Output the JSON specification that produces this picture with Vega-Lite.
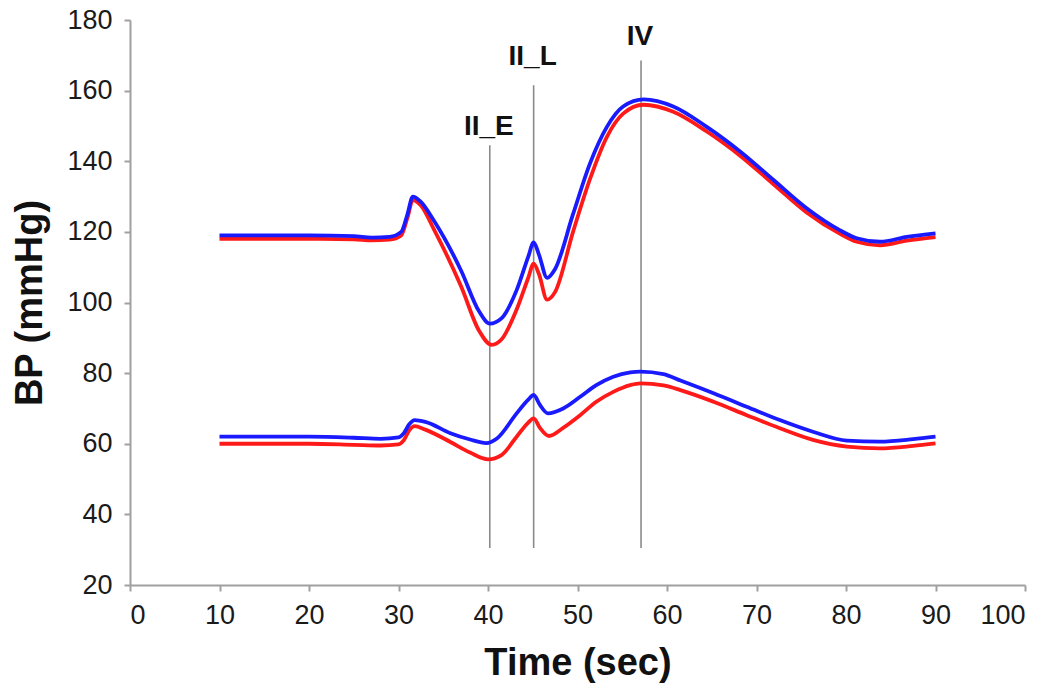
{
  "$schema": "https://vega.github.io/schema/vega-lite/v6.json",
  "autosize": "none",
  "width": 895,
  "height": 565,
  "padding": {"left": 130, "top": 20, "right": 25, "bottom": 108},
  "background": "white",
  "config": {
    "view": {"stroke": null},
    "font": "Liberation Sans",
    "axis": {
      "grid": false,
      "domainColor": "#a0a0a0",
      "domainWidth": 2,
      "tickColor": "#a0a0a0",
      "tickWidth": 2,
      "tickSize": 6,
      "labelFont": "Liberation Sans",
      "labelFontSize": 27,
      "labelColor": "#1a1a1a",
      "titleFont": "Liberation Sans",
      "titleFontWeight": "bold",
      "titleFontSize": 38,
      "titleColor": "#111111"
    }
  },
  "datasets": {
    "curves": [
      {"t": 10, "bp": 118, "grp": "red", "wave": "sys"},
      {"t": 20, "bp": 118, "grp": "red", "wave": "sys"},
      {"t": 25, "bp": 117.9, "grp": "red", "wave": "sys"},
      {"t": 27, "bp": 117.6, "grp": "red", "wave": "sys"},
      {"t": 29, "bp": 117.8, "grp": "red", "wave": "sys"},
      {"t": 30.3, "bp": 119, "grp": "red", "wave": "sys"},
      {"t": 31, "bp": 124, "grp": "red", "wave": "sys"},
      {"t": 31.6, "bp": 129, "grp": "red", "wave": "sys"},
      {"t": 32.5, "bp": 127.5, "grp": "red", "wave": "sys"},
      {"t": 34, "bp": 120.5, "grp": "red", "wave": "sys"},
      {"t": 37, "bp": 104.5, "grp": "red", "wave": "sys"},
      {"t": 39, "bp": 92, "grp": "red", "wave": "sys"},
      {"t": 40.4, "bp": 88, "grp": "red", "wave": "sys"},
      {"t": 41.5, "bp": 89.5, "grp": "red", "wave": "sys"},
      {"t": 43.2, "bp": 98, "grp": "red", "wave": "sys"},
      {"t": 44.5, "bp": 107, "grp": "red", "wave": "sys"},
      {"t": 45.1, "bp": 111, "grp": "red", "wave": "sys"},
      {"t": 45.7, "bp": 108, "grp": "red", "wave": "sys"},
      {"t": 46.6, "bp": 100.8, "grp": "red", "wave": "sys"},
      {"t": 47.5, "bp": 103, "grp": "red", "wave": "sys"},
      {"t": 49.5, "bp": 120, "grp": "red", "wave": "sys"},
      {"t": 51.4, "bp": 135, "grp": "red", "wave": "sys"},
      {"t": 53.3, "bp": 147, "grp": "red", "wave": "sys"},
      {"t": 55.1, "bp": 153.5, "grp": "red", "wave": "sys"},
      {"t": 57.4, "bp": 156, "grp": "red", "wave": "sys"},
      {"t": 60.7, "bp": 154, "grp": "red", "wave": "sys"},
      {"t": 64.4, "bp": 148.5, "grp": "red", "wave": "sys"},
      {"t": 68.2, "bp": 141.5, "grp": "red", "wave": "sys"},
      {"t": 71.9, "bp": 133.5, "grp": "red", "wave": "sys"},
      {"t": 75.6, "bp": 125.5, "grp": "red", "wave": "sys"},
      {"t": 79.3, "bp": 119.5, "grp": "red", "wave": "sys"},
      {"t": 81.2, "bp": 117.2, "grp": "red", "wave": "sys"},
      {"t": 83.8, "bp": 116.2, "grp": "red", "wave": "sys"},
      {"t": 86.8, "bp": 117.5, "grp": "red", "wave": "sys"},
      {"t": 90, "bp": 118.5, "grp": "red", "wave": "sys"},

      {"t": 10, "bp": 119, "grp": "blue", "wave": "sys"},
      {"t": 20, "bp": 119, "grp": "blue", "wave": "sys"},
      {"t": 25, "bp": 118.8, "grp": "blue", "wave": "sys"},
      {"t": 27, "bp": 118.4, "grp": "blue", "wave": "sys"},
      {"t": 29, "bp": 118.6, "grp": "blue", "wave": "sys"},
      {"t": 30.3, "bp": 120, "grp": "blue", "wave": "sys"},
      {"t": 31, "bp": 125, "grp": "blue", "wave": "sys"},
      {"t": 31.6, "bp": 130, "grp": "blue", "wave": "sys"},
      {"t": 32.5, "bp": 128.5, "grp": "blue", "wave": "sys"},
      {"t": 34, "bp": 123, "grp": "blue", "wave": "sys"},
      {"t": 37, "bp": 109, "grp": "blue", "wave": "sys"},
      {"t": 39, "bp": 97.5, "grp": "blue", "wave": "sys"},
      {"t": 40.2, "bp": 94, "grp": "blue", "wave": "sys"},
      {"t": 41.5, "bp": 95.5, "grp": "blue", "wave": "sys"},
      {"t": 43.2, "bp": 103.5, "grp": "blue", "wave": "sys"},
      {"t": 44.5, "bp": 113, "grp": "blue", "wave": "sys"},
      {"t": 45.1, "bp": 117, "grp": "blue", "wave": "sys"},
      {"t": 45.7, "bp": 113.5, "grp": "blue", "wave": "sys"},
      {"t": 46.6, "bp": 107, "grp": "blue", "wave": "sys"},
      {"t": 47.5, "bp": 109.5, "grp": "blue", "wave": "sys"},
      {"t": 49.5, "bp": 125, "grp": "blue", "wave": "sys"},
      {"t": 51.4, "bp": 139.4, "grp": "blue", "wave": "sys"},
      {"t": 53.3, "bp": 149.8, "grp": "blue", "wave": "sys"},
      {"t": 55.1, "bp": 155.5, "grp": "blue", "wave": "sys"},
      {"t": 57.4, "bp": 157.5, "grp": "blue", "wave": "sys"},
      {"t": 60.7, "bp": 155.5, "grp": "blue", "wave": "sys"},
      {"t": 64.4, "bp": 149.8, "grp": "blue", "wave": "sys"},
      {"t": 68.2, "bp": 142.7, "grp": "blue", "wave": "sys"},
      {"t": 71.9, "bp": 134.7, "grp": "blue", "wave": "sys"},
      {"t": 75.6, "bp": 126.7, "grp": "blue", "wave": "sys"},
      {"t": 79.3, "bp": 120.5, "grp": "blue", "wave": "sys"},
      {"t": 81.2, "bp": 118.2, "grp": "blue", "wave": "sys"},
      {"t": 83.8, "bp": 117.2, "grp": "blue", "wave": "sys"},
      {"t": 86.8, "bp": 118.6, "grp": "blue", "wave": "sys"},
      {"t": 90, "bp": 119.6, "grp": "blue", "wave": "sys"},

      {"t": 10, "bp": 60, "grp": "red", "wave": "dia"},
      {"t": 20, "bp": 60, "grp": "red", "wave": "dia"},
      {"t": 25, "bp": 59.7, "grp": "red", "wave": "dia"},
      {"t": 28, "bp": 59.5, "grp": "red", "wave": "dia"},
      {"t": 30, "bp": 59.8, "grp": "red", "wave": "dia"},
      {"t": 30.6, "bp": 61, "grp": "red", "wave": "dia"},
      {"t": 31.2, "bp": 63.8, "grp": "red", "wave": "dia"},
      {"t": 31.8, "bp": 65, "grp": "red", "wave": "dia"},
      {"t": 33, "bp": 64, "grp": "red", "wave": "dia"},
      {"t": 35.8, "bp": 60.5, "grp": "red", "wave": "dia"},
      {"t": 38, "bp": 57.5, "grp": "red", "wave": "dia"},
      {"t": 40, "bp": 55.6, "grp": "red", "wave": "dia"},
      {"t": 41.5, "bp": 56.8, "grp": "red", "wave": "dia"},
      {"t": 43.2, "bp": 62, "grp": "red", "wave": "dia"},
      {"t": 44.5, "bp": 66, "grp": "red", "wave": "dia"},
      {"t": 45.1, "bp": 67.2, "grp": "red", "wave": "dia"},
      {"t": 45.8, "bp": 64.5, "grp": "red", "wave": "dia"},
      {"t": 46.8, "bp": 62.2, "grp": "red", "wave": "dia"},
      {"t": 48.4, "bp": 64.5, "grp": "red", "wave": "dia"},
      {"t": 50.3, "bp": 68.1, "grp": "red", "wave": "dia"},
      {"t": 52.1, "bp": 71.9, "grp": "red", "wave": "dia"},
      {"t": 54, "bp": 74.7, "grp": "red", "wave": "dia"},
      {"t": 55.9, "bp": 76.6, "grp": "red", "wave": "dia"},
      {"t": 57, "bp": 77.1, "grp": "red", "wave": "dia"},
      {"t": 59.6, "bp": 76.5, "grp": "red", "wave": "dia"},
      {"t": 61.5, "bp": 75.2, "grp": "red", "wave": "dia"},
      {"t": 65.2, "bp": 71.9, "grp": "red", "wave": "dia"},
      {"t": 68.9, "bp": 68.1, "grp": "red", "wave": "dia"},
      {"t": 72.6, "bp": 64.4, "grp": "red", "wave": "dia"},
      {"t": 76.3, "bp": 61.1, "grp": "red", "wave": "dia"},
      {"t": 80.1, "bp": 59.2, "grp": "red", "wave": "dia"},
      {"t": 83.8, "bp": 58.7, "grp": "red", "wave": "dia"},
      {"t": 87.5, "bp": 59.4, "grp": "red", "wave": "dia"},
      {"t": 90, "bp": 60.1, "grp": "red", "wave": "dia"},

      {"t": 10, "bp": 62, "grp": "blue", "wave": "dia"},
      {"t": 20, "bp": 62, "grp": "blue", "wave": "dia"},
      {"t": 25, "bp": 61.7, "grp": "blue", "wave": "dia"},
      {"t": 28, "bp": 61.4, "grp": "blue", "wave": "dia"},
      {"t": 30, "bp": 61.8, "grp": "blue", "wave": "dia"},
      {"t": 30.6, "bp": 63, "grp": "blue", "wave": "dia"},
      {"t": 31.2, "bp": 65.5, "grp": "blue", "wave": "dia"},
      {"t": 31.8, "bp": 66.7, "grp": "blue", "wave": "dia"},
      {"t": 33, "bp": 66.2, "grp": "blue", "wave": "dia"},
      {"t": 35.8, "bp": 63, "grp": "blue", "wave": "dia"},
      {"t": 38, "bp": 61.2, "grp": "blue", "wave": "dia"},
      {"t": 39.8, "bp": 60.2, "grp": "blue", "wave": "dia"},
      {"t": 41, "bp": 61.5, "grp": "blue", "wave": "dia"},
      {"t": 43.2, "bp": 68.6, "grp": "blue", "wave": "dia"},
      {"t": 44.5, "bp": 72.5, "grp": "blue", "wave": "dia"},
      {"t": 45.1, "bp": 73.8, "grp": "blue", "wave": "dia"},
      {"t": 45.8, "bp": 71, "grp": "blue", "wave": "dia"},
      {"t": 46.7, "bp": 68.6, "grp": "blue", "wave": "dia"},
      {"t": 48.4, "bp": 70, "grp": "blue", "wave": "dia"},
      {"t": 50.3, "bp": 73.3, "grp": "blue", "wave": "dia"},
      {"t": 52.1, "bp": 76.6, "grp": "blue", "wave": "dia"},
      {"t": 54, "bp": 79, "grp": "blue", "wave": "dia"},
      {"t": 55.9, "bp": 80.2, "grp": "blue", "wave": "dia"},
      {"t": 57, "bp": 80.4, "grp": "blue", "wave": "dia"},
      {"t": 59.6, "bp": 79.7, "grp": "blue", "wave": "dia"},
      {"t": 61.5, "bp": 77.9, "grp": "blue", "wave": "dia"},
      {"t": 65.2, "bp": 74.3, "grp": "blue", "wave": "dia"},
      {"t": 68.9, "bp": 70.5, "grp": "blue", "wave": "dia"},
      {"t": 72.6, "bp": 66.7, "grp": "blue", "wave": "dia"},
      {"t": 76.3, "bp": 63.4, "grp": "blue", "wave": "dia"},
      {"t": 80.1, "bp": 60.9, "grp": "blue", "wave": "dia"},
      {"t": 83.8, "bp": 60.6, "grp": "blue", "wave": "dia"},
      {"t": 87.5, "bp": 61.3, "grp": "blue", "wave": "dia"},
      {"t": 90, "bp": 62, "grp": "blue", "wave": "dia"}
    ],
    "markers": [
      {"t": 40.2, "lo": 30.5, "hi": 144.5, "label": "II_E", "ly": 147.4},
      {"t": 45.1, "lo": 30.5, "hi": 161.5, "label": "II_L", "ly": 167.3},
      {"t": 57.1, "lo": 30.5, "hi": 168.5, "label": "IV", "ly": 172.9}
    ]
  },
  "layer": [
    {
      "data": {"name": "markers"},
      "mark": {"type": "rule", "color": "#8a8a8a", "strokeWidth": 1.6},
      "encoding": {
        "x": {"field": "t", "type": "quantitative", "scale": {"domain": [0, 100]},
              "axis": {"values": [0,10,20,30,40,50,60,70,80,90,100], "title": "Time (sec)", "labelPadding": 11, "titlePadding": 16}},
        "y": {"field": "lo", "type": "quantitative", "scale": {"domain": [20, 180]},
              "axis": {"values": [20,40,60,80,100,120,140,160,180], "title": "BP (mmHg)", "labelPadding": 12, "titlePadding": 17}},
        "y2": {"field": "hi"}
      }
    },
    {
      "data": {"name": "markers"},
      "mark": {"type": "text", "font": "Liberation Sans", "fontWeight": "bold", "fontSize": 28, "color": "#111111", "baseline": "alphabetic", "align": "center", "dx": -1},
      "encoding": {
        "x": {"field": "t", "type": "quantitative"},
        "y": {"field": "ly", "type": "quantitative"},
        "text": {"field": "label"}
      }
    },
    {
      "data": {"name": "curves"},
      "transform": [{"filter": "datum.grp === 'red'"}],
      "mark": {"type": "line", "color": "#ff1a1a", "strokeWidth": 3.8, "interpolate": "monotone"},
      "encoding": {
        "x": {"field": "t", "type": "quantitative"},
        "y": {"field": "bp", "type": "quantitative"},
        "detail": {"field": "wave"}
      }
    },
    {
      "data": {"name": "curves"},
      "transform": [{"filter": "datum.grp === 'blue'"}],
      "mark": {"type": "line", "color": "#1a1aff", "strokeWidth": 3.8, "interpolate": "monotone"},
      "encoding": {
        "x": {"field": "t", "type": "quantitative"},
        "y": {"field": "bp", "type": "quantitative"},
        "detail": {"field": "wave"}
      }
    }
  ]
}
